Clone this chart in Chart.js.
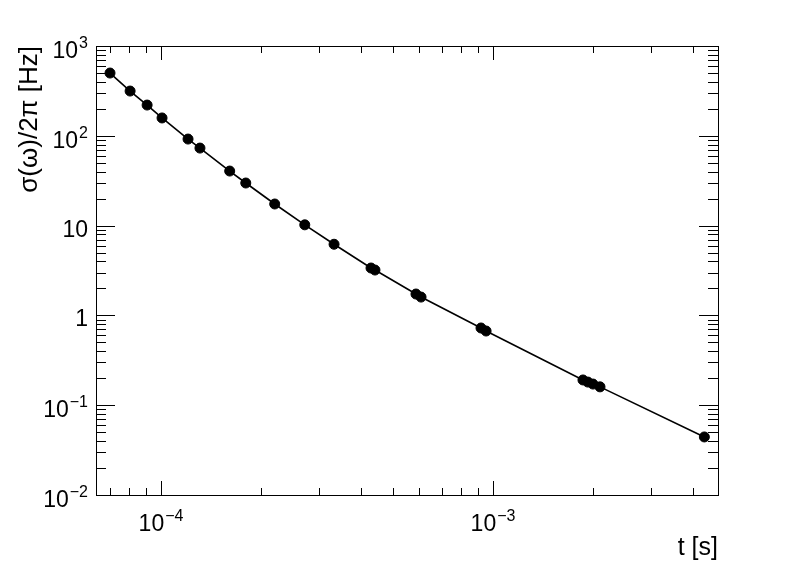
<!DOCTYPE html>
<html>
<head>
<meta charset="utf-8">
<script src="https://cdn.jsdelivr.net/npm/chart.js@4"></script>
<style>
  html, body { margin: 0; padding: 0; background: #fff; }
  #wrap { width: 798px; height: 576px; }
</style>
</head>
<body>
<div id="wrap"><canvas id="sigmaChart" width="798" height="576"></canvas></div>
<script>
// measured points: time [s] and sigma(omega)/2pi [Hz]
const tValues = [7.02e-5, 8.07e-5, 9.08e-5, 1.007e-4, 1.206e-4, 1.31e-4, 1.61e-4, 1.80e-4,
  2.20e-4, 2.71e-4, 3.32e-4, 4.29e-4, 4.41e-4, 5.86e-4, 6.07e-4, 9.2e-4, 9.53e-4,
  1.866e-3, 1.93e-3, 2.0e-3, 2.10e-3, 4.33e-3];
const sigmaValues = [500, 315, 220, 158, 92, 73, 40.5, 29.8,
  17.4, 10.2, 6.2, 3.37, 3.20, 1.73, 1.60, 0.724, 0.670,
  0.191, 0.181, 0.172, 0.160, 0.0443];

const xRange = [6.37e-5, 4.76e-3];
const yRange = [1e-2, 1e3];

// tick labels as base + exponent
const xTickValues = [1e-4, 1e-3];
const xTickBase = ['10', '10'];
const xTickExp = ['\u22124', '\u22123'];
const yTickValues = [1e-2, 1e-1, 1, 10, 1e2, 1e3];
const yTickBase = ['10', '10', '1', '10', '10', '10'];
const yTickExp = ['\u22122', '\u22121', '', '', '2', '3'];

const xTitle = 't [s]';
const yTitle = '\u03C3(\u03C9)/2\u03C0 [Hz]';

const FONT = '"Liberation Sans", Arial, sans-serif';

function minorValues(lo, hi) {
  const out = [];
  for (let e = Math.floor(Math.log10(lo)); e <= Math.ceil(Math.log10(hi)); e++) {
    for (let m = 1; m < 10; m++) {
      const v = m * Math.pow(10, e);
      if (v >= lo * 0.9999 && v <= hi * 1.0001) out.push({ v: v, major: m === 1 });
    }
  }
  return out;
}

// label like 10^-4; align is 'center' or 'right'
function drawPowerLabel(ctx, base, exp, x, baseline, align) {
  ctx.font = '23px ' + FONT;
  const wb = ctx.measureText(base).width;
  ctx.font = '16px ' + FONT;
  const we = exp ? ctx.measureText(exp).width + 1 : 0;
  const total = wb + we;
  let left = align === 'center' ? x - total / 2 : x - total;
  ctx.textAlign = 'left';
  ctx.textBaseline = 'alphabetic';
  ctx.font = '23px ' + FONT;
  ctx.fillText(base, left, baseline);
  if (exp) {
    ctx.font = '16px ' + FONT;
    ctx.fillText(exp, left + wb + 1, baseline - 10);
  }
}

const rootFrame = {
  id: 'rootFrame',
  beforeDraw(chart) {
    const ctx = chart.ctx;
    ctx.save();
    ctx.fillStyle = '#fff';
    ctx.fillRect(0, 0, chart.width, chart.height);
    ctx.restore();
  },
  afterDraw(chart) {
    const ctx = chart.ctx;
    const a = chart.chartArea;
    const xs = chart.scales.x, ys = chart.scales.y;
    ctx.save();
    ctx.strokeStyle = '#000';
    ctx.fillStyle = '#000';
    ctx.lineWidth = 1;
    ctx.strokeRect(a.left + 0.5, a.top + 0.5, a.right - a.left, a.bottom - a.top);

    ctx.beginPath();
    minorValues(xRange[0], xRange[1]).forEach(t => {
      const px = Math.round(xs.getPixelForValue(t.v)) + 0.5;
      const lb = t.major ? 14 : 7;
      ctx.moveTo(px, a.bottom); ctx.lineTo(px, a.bottom - lb);
      ctx.moveTo(px, a.top); ctx.lineTo(px, a.top + lb);
    });
    minorValues(yRange[0], yRange[1]).forEach(t => {
      const py = Math.round(ys.getPixelForValue(t.v)) + 0.5;
      const lb = t.major ? 19 : 10;
      ctx.moveTo(a.left, py); ctx.lineTo(a.left + lb, py);
      ctx.moveTo(a.right, py); ctx.lineTo(a.right - lb, py);
    });
    ctx.stroke();

    xTickValues.forEach((v, i) => {
      drawPowerLabel(ctx, xTickBase[i], xTickExp[i], xs.getPixelForValue(v), 531, 'center');
    });
    yTickValues.forEach((v, i) => {
      const py = ys.getPixelForValue(v);
      drawPowerLabel(ctx, yTickBase[i], yTickExp[i], a.left - 8, py + (yTickExp[i] ? 12 : 11), 'right');
    });

    ctx.font = '25px ' + FONT;
    ctx.textAlign = 'right';
    ctx.textBaseline = 'alphabetic';
    ctx.fillText(xTitle, a.right, 555);

    ctx.font = '26px ' + FONT;
    ctx.translate(37, a.top);
    ctx.rotate(-Math.PI / 2);
    ctx.fillText(yTitle, 0, 0);
    ctx.restore();
  }
};

new Chart(document.getElementById('sigmaChart'), {
  type: 'line',
  data: {
    datasets: [{
      data: tValues.map((t, i) => ({ x: t, y: sigmaValues[i] })),
      borderColor: '#000',
      borderWidth: 1.6,
      backgroundColor: '#000',
      pointBackgroundColor: '#000',
      pointBorderColor: '#000',
      pointRadius: 5,
      pointBorderWidth: 1,
      tension: 0,
      fill: false
    }]
  },
  options: {
    responsive: false,
    animation: false,
    layout: { padding: { left: 96, right: 80, top: 46, bottom: 81 } },
    plugins: { legend: { display: false }, tooltip: { enabled: false } },
    scales: {
      x: { type: 'logarithmic', min: xRange[0], max: xRange[1], display: false },
      y: { type: 'logarithmic', min: yRange[0], max: yRange[1], display: false }
    }
  },
  plugins: [rootFrame]
});
</script>
</body>
</html>
